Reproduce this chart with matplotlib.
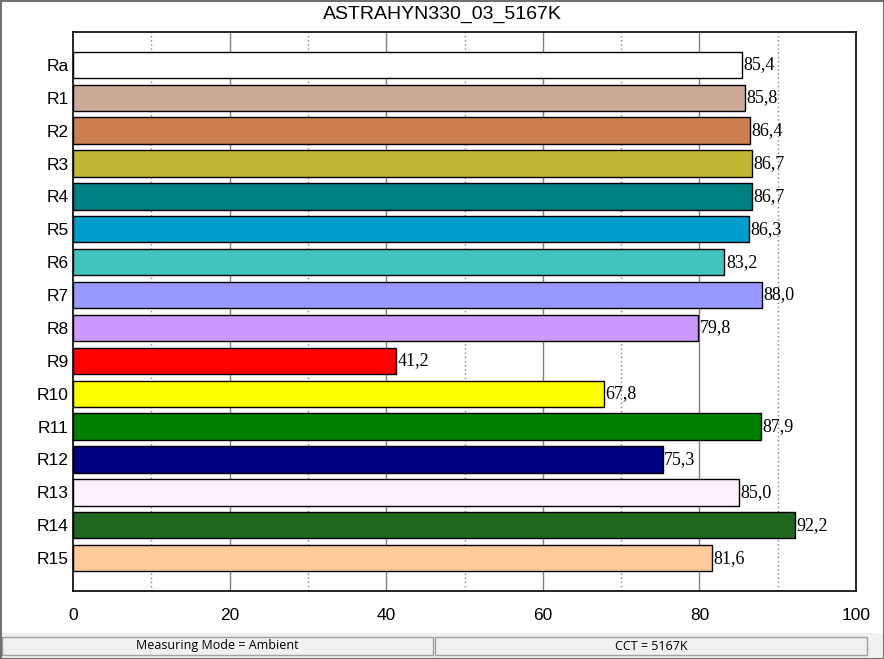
import matplotlib
matplotlib.use("Agg")
import matplotlib.pyplot as plt
from matplotlib.patches import Rectangle

title = "ASTRAHYN330_03_5167K"
categories = ["Ra", "R1", "R2", "R3", "R4", "R5", "R6", "R7", "R8", "R9",
              "R10", "R11", "R12", "R13", "R14", "R15"]
values = [85.4, 85.8, 86.4, 86.7, 86.7, 86.3, 83.2, 88.0, 79.8, 41.2,
          67.8, 87.9, 75.3, 85.0, 92.2, 81.6]
colors = ["#ffffff", "#cca896", "#cc8050", "#c0b832", "#008080", "#009ccc",
          "#40c4c0", "#9999ff", "#cc99ff", "#ff0000", "#ffff00", "#008000",
          "#000080", "#fff0ff", "#206820", "#ffcc99"]
xticks = [0, 20, 40, 60, 80, 100]
minor_ticks = [10, 30, 50, 70, 90]
status_left = "Measuring Mode = Ambient"
status_right = "CCT = 5167K"

W, H = 884, 659
fig = plt.figure(figsize=(W / 100, H / 100), dpi=100)
fig.patch.set_facecolor("white")

def px(x0, y0, x1, y1):
    return (x0 / W, 1 - y1 / H, (x1 - x0) / W, (y1 - y0) / H)

ax = fig.add_axes(px(73, 32, 856, 591))
ax.set_xlim(0, 100)
ax.set_ylim(16, -1)

for g in xticks[1:-1]:
    ax.axvline(g, color="#808080", lw=1.0, zorder=0)
for g in minor_ticks:
    ax.axvline(g, color="#808080", lw=1.0, ls=(0, (1, 2)), zorder=0)

ypos = list(range(len(categories)))
ax.barh(ypos, values, height=0.8, color=colors, edgecolor="black", linewidth=1.0, zorder=2)
for y, v in zip(ypos, values):
    ax.text(v + 0.2, y, f"{v:.1f}".replace(".", ","), va="center", ha="left",
            fontsize=13, family="Liberation Serif", zorder=3)

ax.set_yticks(ypos)
ax.set_yticklabels(categories, fontsize=12.5, family="Liberation Sans")
ax.set_xticks(xticks)
ax.set_xticklabels([str(t) for t in xticks], fontsize=12.5, family="Liberation Sans")
ax.tick_params(axis="both", length=0)
ax.tick_params(axis="x", pad=12)
ax.tick_params(axis="y", pad=3)
for s in ax.spines.values():
    s.set_linewidth(1.2)
    s.set_color("black")

fig.text(0.5, 1 - 14 / H, title, ha="center", va="center", fontsize=14,
         family="Liberation Sans")

# status bar
fig.patches.append(Rectangle((0, 0), 1, (H - 633) / H, transform=fig.transFigure,
                             facecolor="#f0f0f0", edgecolor="none", zorder=0))
for (x0, x1, txt) in [(2, 433, status_left), (435, 867, status_right)]:
    fig.patches.append(Rectangle((x0 / W, 1 - 655 / H), (x1 - x0) / W, 18 / H,
                                 transform=fig.transFigure, facecolor="#f0f0f0",
                                 edgecolor="#a0a0a0", lw=1.0, zorder=1))
    fig.text((x0 + x1) / 2 / W, 1 - 646 / H, txt, ha="center", va="center", fontsize=9,
             family="Open Sans")

# window border
fig.patches.append(Rectangle((0.5 / W, 0.5 / H), (W - 1) / W, (H - 1) / H,
                             transform=fig.transFigure, facecolor="none",
                             edgecolor="#707070", lw=1.5, zorder=5))

fig.savefig("out.png", dpi=100)
